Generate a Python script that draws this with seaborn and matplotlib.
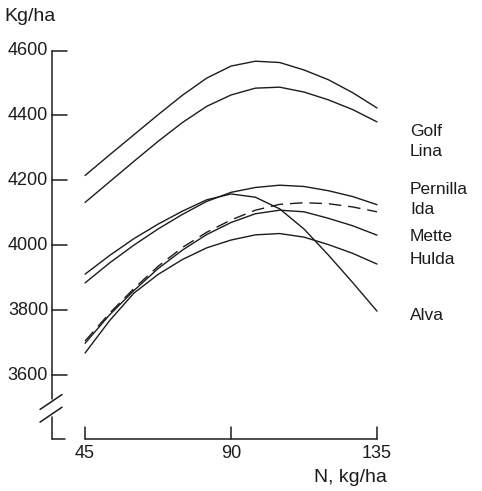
import matplotlib
matplotlib.use("Agg")
import matplotlib.pyplot as plt
import seaborn as sns
import pandas as pd

# ---- data ----
n_rate = [45, 52.5, 60, 67.5, 75, 82.5, 90, 97.5, 105, 112.5, 120, 127.5, 135]
golf     = [4215, 4278, 4340, 4402, 4462, 4515, 4552, 4567, 4563, 4540, 4510, 4470, 4423]
lina     = [4132, 4195, 4258, 4320, 4378, 4428, 4463, 4484, 4487, 4472, 4448, 4418, 4380]
pernilla = [3884, 3945, 4000, 4050, 4095, 4135, 4163, 4178, 4185, 4181, 4168, 4150, 4125]
ida      = [3705, 3790, 3866, 3935, 3993, 4040, 4078, 4108, 4126, 4131, 4128, 4118, 4103]
mette    = [3698, 3785, 3860, 3928, 3985, 4033, 4070, 4097, 4108, 4103, 4083, 4060, 4031]
hulda    = [3668, 3767, 3852, 3910, 3956, 3992, 4016, 4032, 4036, 4025, 4002, 3975, 3942]
alva     = [3911, 3968, 4020, 4065, 4105, 4140, 4158, 4148, 4112, 4050, 3970, 3885, 3797]
varieties = ["Golf", "Lina", "Pernilla", "Ida", "Mette", "Hulda", "Alva"]
series = [golf, lina, pernilla, ida, mette, hulda, alva]
y_ticks = [3600, 3800, 4000, 4200, 4400, 4600]
x_ticks = [45, 90, 135]
y_label = "Kg/ha"
x_label = "N, kg/ha"

rows = []
for name, vals in zip(varieties, series):
    for xv, yv in zip(n_rate, vals):
        rows.append({"N": xv, "yield": yv, "variety": name})
df = pd.DataFrame(rows)

# ---- figure ----
sns.set_style("white")
plt.rcParams["font.family"] = ["Liberation Sans", "DejaVu Sans"]
ink = "#1c1c1c"

fig = plt.figure(figsize=(4.82, 4.91), dpi=100)
ax = fig.add_axes([52 / 482, 1 - 439 / 491, 325 / 482, (439 - 50.5) / 491])
xmin, xmax = 34.8, 135.0
ymin, ymax = 3403, 4600
ax.set_xlim(xmin, xmax)
ax.set_ylim(ymin, ymax)

dashes = {v: "" for v in varieties}
dashes["Ida"] = (9, 5)
sns.lineplot(data=df, x="N", y="yield", hue="variety", style="variety",
             palette={v: ink for v in varieties}, dashes=dashes,
             linewidth=1.0, legend=False, ax=ax, clip_on=False)

for s in ax.spines.values():
    s.set_visible(False)
ax.set_xticks([])
ax.set_yticks([])
ax.set_xlabel("")
ax.set_ylabel("")

lw = 1.1
# left axis with break
brk_top, brk_bot = 3527, 3470
ax.plot([xmin, xmin], [ymax, brk_top], color=ink, lw=lw, clip_on=False)
ax.plot([xmin, xmin], [brk_bot, ymin], color=ink, lw=lw, clip_on=False)
ax.plot([xmin, xmin + 4.0], [ymin, ymin], color=ink, lw=lw, clip_on=False)
for yb in (3494, 3455):
    ax.plot([xmin - 3.7, xmin + 3.1], [yb, yb + 46], color=ink, lw=lw, clip_on=False)
# y ticks
for yt in y_ticks:
    ax.plot([xmin, xmin + 4.5], [yt, yt], color=ink, lw=lw, clip_on=False)
    ax.text(xmin - 1.2, yt, str(yt), ha="right", va="center", fontsize=13, color=ink)
# x axis
ax.plot([x_ticks[0], x_ticks[-1]], [ymin, ymin], color=ink, lw=lw, clip_on=False)
for xt in x_ticks:
    ax.plot([xt, xt], [ymin, ymin + 38], color=ink, lw=lw, clip_on=False)
    ax.text(xt, ymin - 20, str(xt), ha="center", va="top", fontsize=13, color=ink)

ax.text(-0.145, 1.087, y_label, transform=ax.transAxes, ha="left", va="center",
        fontsize=14, color=ink)
ax.text(1.03, -0.098, x_label, transform=ax.transAxes, ha="right", va="center",
        fontsize=14, color=ink)

# variety labels at right
label_y = {"Golf": 4349, "Lina": 4288, "Pernilla": 4171, "Ida": 4109,
           "Mette": 4026, "Hulda": 3955, "Alva": 3782}
for v in varieties:
    ax.text(145.2, label_y[v], v, ha="left", va="center", fontsize=12.5, color=ink)

fig.savefig("out.png", dpi=100, facecolor="white")
